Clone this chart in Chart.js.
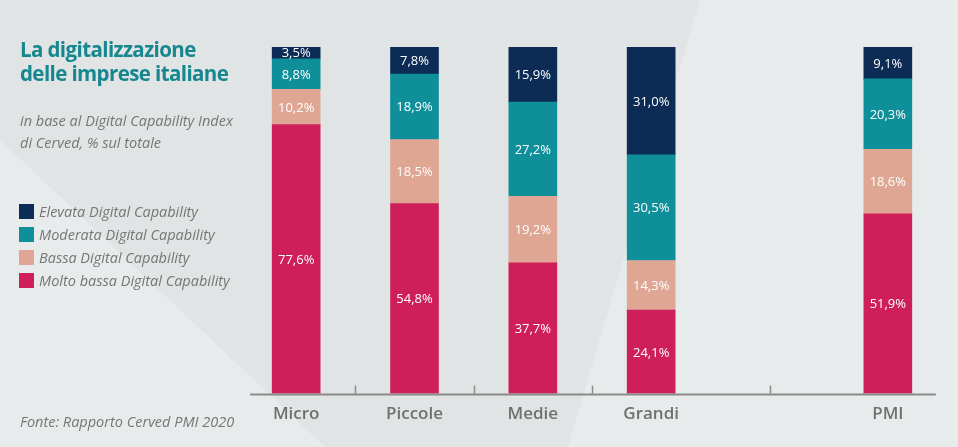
<!DOCTYPE html>
<html>
<head>
<meta charset="utf-8">
<script src="https://cdn.jsdelivr.net/npm/chart.js@4"></script>
<style>
html, body { margin: 0; padding: 0; }
body { width: 958px; height: 447px; position: relative; overflow: hidden; background: #e1e4e5; font-family: 'Open Sans', sans-serif; }
.bg1 { position: absolute; inset: 0; background: #e8ebec; clip-path: polygon(700px 0, 958px 0, 958px 447px, 568px 447px); }
.bg2 { position: absolute; inset: 0; background: #e8ebec; clip-path: polygon(0 140px, 325px 447px, 0 447px); }
#chart { position: absolute; left: 0; top: 0; }
.title { position: absolute; left: 20px; top: 37px; color: #16878f; font-weight: 700; font-size: 20.5px; letter-spacing: -0.6px; line-height: 24px; }
.sub { position: absolute; left: 20px; top: 110px; color: #767676; font-style: italic; font-size: 14.5px; line-height: 22px; }
.legend { position: absolute; left: 19px; top: 200px; }
.legend div { height: 23px; line-height: 23px; font-style: italic; font-size: 14.5px; color: #767676; white-space: nowrap; }
.legend span { display: inline-block; width: 15px; height: 15px; vertical-align: -2px; margin-right: 5px; }
.source { position: absolute; left: 20px; top: 412px; color: #767676; font-style: italic; font-size: 14.5px; }
</style>
</head>
<body>
<div class="bg1"></div>
<div class="bg2"></div>
<canvas id="chart" width="958" height="447"></canvas>
<div class="title">La digitalizzazione<br>delle imprese italiane</div>
<div class="sub">in base al Digital Capability Index<br>di Cerved, % sul totale</div>
<div class="legend" id="legend"></div>
<div class="source">Fonte: Rapporto Cerved PMI 2020</div>
<script>
// categories (slot 4 is the empty gap before PMI)
const categories = ['Micro', 'Piccole', 'Medie', 'Grandi', '', 'PMI'];

// series, bottom to top
const moltoBassa = [77.6, 54.8, 37.7, 24.1, null, 51.9];
const bassa      = [10.2, 18.5, 19.2, 14.3, null, 18.6];
const moderata   = [8.8, 18.9, 27.2, 30.5, null, 20.3];
const elevata    = [3.5, 7.8, 15.9, 31.0, null, 9.1];

// where the small tick marks sit on the axis
const tickSlots = [0.5, 1.5, 2.5, 4];

const series = [
    { label: 'Molto bassa Digital Capability', data: moltoBassa, color: '#cf1f5b' },
    { label: 'Bassa Digital Capability', data: bassa, color: '#dea693' },
    { label: 'Moderata Digital Capability', data: moderata, color: '#0f8f99' },
    { label: 'Elevata Digital Capability', data: elevata, color: '#0c2c55' }
];

// legend, top to bottom
const legendEl = document.getElementById('legend');
series.slice().reverse().forEach(s => {
    const row = document.createElement('div');
    row.innerHTML = '<span style="background:' + s.color + '"></span>' + s.label;
    legendEl.appendChild(row);
});

function fmt(v) {
    return v.toFixed(1).replace('.', ',') + '%';
}

// axis line, tick marks and value labels
const overlay = {
    id: 'overlay',
    afterDatasetsDraw(chart) {
        const ctx = chart.ctx;
        const xs = chart.scales.x;
        const ys = chart.scales.y;
        const base = ys.getPixelForValue(0);
        ctx.save();
        ctx.strokeStyle = '#8a8a8a';
        ctx.lineWidth = 2;
        ctx.beginPath();
        ctx.moveTo(xs.getPixelForValue(0) - 46, base + 1);
        ctx.lineTo(xs.getPixelForValue(5) + 48, base + 1);
        ctx.stroke();
        ctx.lineWidth = 1.5;
        tickSlots.forEach(t => {
            const px = Math.round(xs.getPixelForValue(t)) + 0.5;
            ctx.beginPath();
            ctx.moveTo(px, base);
            ctx.lineTo(px, base - 8);
            ctx.stroke();
        });

        ctx.fillStyle = '#ffffff';
        ctx.font = '13px "Open Sans"';
        ctx.textAlign = 'center';
        ctx.textBaseline = 'middle';
        chart.data.datasets.forEach((ds, di) => {
            const meta = chart.getDatasetMeta(di);
            meta.data.forEach((el, i) => {
                const v = ds.data[i];
                if (v === null) return;
                ctx.fillText(fmt(v), el.x, (el.y + el.base) / 2 + 1);
            });
        });
        ctx.restore();
    }
};

const ctx = document.getElementById('chart').getContext('2d');
new Chart(ctx, {
    type: 'bar',
    data: {
        labels: categories,
        datasets: series.map(s => ({
            label: s.label,
            data: s.data,
            backgroundColor: s.color,
            borderWidth: 0,
            barThickness: 48
        }))
    },
    options: {
        responsive: false,
        animation: false,
        layout: { padding: { left: 237, right: 11, top: 47, bottom: 13 } },
        plugins: {
            legend: { display: false },
            tooltip: { enabled: false }
        },
        scales: {
            x: {
                stacked: true,
                grid: { display: false, drawTicks: false },
                border: { display: false },
                ticks: {
                    padding: 10,
                    color: '#707070',
                    font: { family: 'Open Sans', size: 17, weight: '600' }
                }
            },
            y: {
                stacked: true,
                display: false,
                min: 0,
                max: 100
            }
        }
    },
    plugins: [overlay]
});
</script>
</body>
</html>
